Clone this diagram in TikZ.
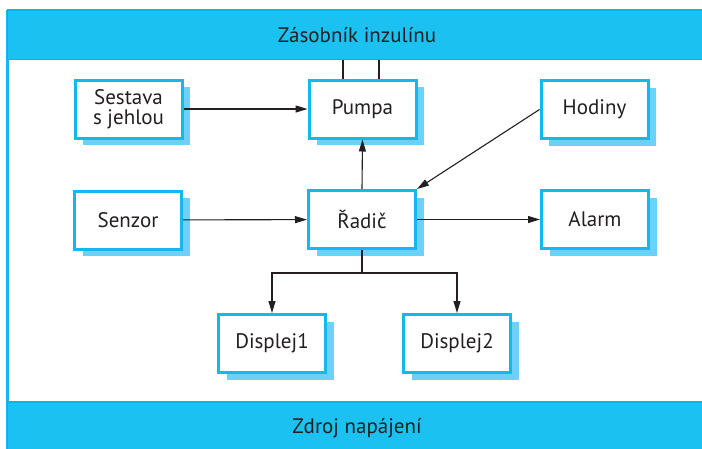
\documentclass[tikz,border=0pt]{standalone}
\usepackage{fontspec}
\setmainfont{PT Sans}
\usetikzlibrary{arrows.meta,shadows}
\definecolor{barblue}{HTML}{1BC1F1}
\definecolor{baredge}{HTML}{0AB2EA}
\definecolor{boxedge}{HTML}{12B8EF}
\definecolor{shadeblue}{HTML}{6DD0F6}
\definecolor{ink}{HTML}{231F20}
\tikzset{
  unit/.style={draw=boxedge, line width=3pt, fill=white,
    minimum width=107pt, minimum height=58pt, inner sep=0pt,
    align=center, text=ink, font=\fontsize{21}{23}\selectfont,
    drop shadow={shadow xshift=8pt, shadow yshift=-7pt, opacity=1, fill=shadeblue}},
  bar/.style={fill=barblue, draw=baredge, line width=1.5pt},
  barlabel/.style={text=ink, font=\fontsize{21}{23}\selectfont},
  link/.style={draw=ink, line width=1.1pt, -{Triangle[length=12pt,width=7pt]}},
  pipe/.style={draw=ink, line width=1.1pt}
}
\begin{document}
\begin{tikzpicture}[x=1pt,y=-1pt]
\useasboundingbox (0,0) rectangle (702,448);
\clip (0,0) rectangle (702,448);
% outer frame
\draw[draw=boxedge, line width=2.5pt] (7.5,10) -- (7.5,460);
% storage bar and supply bar
\draw[bar] (7.5,10) rectangle (720,59.5);
\node[barlabel] (store) at (357,35) {Zásobník inzulínu};
\draw[bar] (7.5,402) rectangle (720,470);
\node[barlabel] (power) at (357,428) {Zdroj napájení};
% components
\node[unit] (needle) at (128.5,109) {Sestava\\[-3pt]s jehlou};
\node[unit] (pump)   at (362.5,109) {Pumpa};
\node[unit] (clock)  at (594.5,109.5) {Hodiny};
\node[unit] (sensor) at (128,220) {Senzor};
\node[unit] (ctrl)   at (362,219.5) {Řadič};
\node[unit] (alarm)  at (595,219.5) {Alarm};
\node[unit] (disp1)  at (272,343.5) {Displej1};
\node[unit] (disp2)  at (457,343.5) {Displej2};
% insulin feed pipes from the reservoir into the pump
\coordinate (pa) at (343,59.5);
\coordinate (pb) at (379,59.5);
\draw[pipe] (pa) -- (pa |- pump.north);
\draw[pipe] (pb) -- (pb |- pump.north);
% signal connections
\draw[link] (needle) -- (pump);
\draw[link] (sensor) -- (ctrl);
\draw[link] (ctrl) -- (alarm);
\draw[link] (ctrl.north) -- (pump.south);
\draw[link] (clock.west) -- (ctrl.north east);
\coordinate (split) at (362,273);
\draw[pipe] (ctrl.south) -- (split);
\draw[link] (split) -| (disp1.north);
\draw[link] (split) -| (disp2.north);
\end{tikzpicture}
\end{document}
